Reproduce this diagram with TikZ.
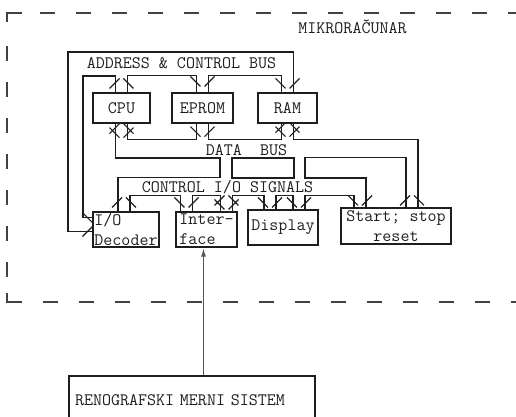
\documentclass[tikz,border=0pt]{standalone}
\definecolor{ink}{RGB}{30,30,30}
\definecolor{rimc}{RGB}{65,65,65}
\definecolor{feedc}{RGB}{85,85,85}
\usepackage{tikz}
\usetikzlibrary{arrows.meta,calc}

\begin{document}
\begin{tikzpicture}[x=1pt, y=-1pt,
        every node/.style={font=\ttfamily\fontsize{17.5}{20}\selectfont, text=ink, inner sep=0pt},
        box/.style={draw=ink, line width=1.2pt, inner sep=1pt},
        bus/.style={draw=ink, line width=1.2pt},
        rim/.style={rimc, line width=1.8pt},
        rimdash/.style={rimc, line width=1.8pt, dash pattern=on 15pt off 21pt},
        feed/.style={feedc, line width=1.7pt, -{Latex[length=9pt,width=5pt]}},
        busdn/.pic={\draw[bus] (-12,-5) -- (-2,5) (12,-5) -- (2,5);},
        busup/.pic={\draw[bus] (-12,5) -- (-2,-5) (12,5) -- (2,-5);},
        busbi/.pic={\draw[bus] (-12,-3) -- (-2,7) (12,-3) -- (2,7) (-12,3) -- (-2,-7) (12,3) -- (2,-7);},
        busrt/.pic={\draw[bus] (-5,-12) -- (5,-2) (-5,12) -- (5,2);}]
        \useasboundingbox (0,0) rectangle (516,416);
        \clip (0,0) rectangle (516,416);
        % microcomputer outline
        \draw[rim] (22,13) -- (7,13) -- (7,22);
        \draw[rim] (7,293) -- (7,302) -- (22,302);
        \draw[rimdash] (40,13) -- (530,13);
        \draw[rimdash] (43,302) -- (530,302);
        \draw[rimdash] (7,46) -- (7,282);
        \node (mikro) at (352.5,27) {MIKRORAČUNAR};
        % boxes
        \node[box, minimum width=57, minimum height=30] (cpu) at (121.5,108) {CPU};
        \node[box, minimum width=61, minimum height=30] (eprom) at (202.5,108) {EPROM};
        \node[box, minimum width=59, minimum height=30] (ram) at (287.5,108) {RAM};
        \node[box, minimum width=66, minimum height=35, align=left] (iodec) at (126,229.5) {I/O\\Decoder};
        \node[box, minimum width=61, minimum height=35, align=left] (iface) at (206.5,229.5) {Inter-\\face};
        \node[box, minimum width=70, minimum height=35] (disp) at (283,227.5) {Display};
        \node[box, minimum width=110, minimum height=36, align=center] (start) at (396,226) {Start; stop\\reset};
        \node[box, minimum height=48, text width=234, inner xsep=6pt, align=left] (reno) at (192,400) {RENOGRAFSKI MERNI SISTEM};
        % address & control bus
        \node (abus) at (181.5,63) {ADDRESS \& CONTROL BUS};
        \draw[bus] ($(iodec.west)+(0,2)$) -| (68,52) -| ($(ram.north)+(6,0)$);
        \draw[bus] ($(iodec.west)+(0,-12)$) -| (83,76) -| ($(cpu.north)+(-6,0)$);
        \draw[bus] ($(cpu.north)+(6,0)$) -- ++(0,-17) -| ($(eprom.north)+(-6,0)$);
        \draw[bus] ($(eprom.north)+(6,0)$) -- ++(0,-17) -| ($(ram.north)+(-6,0)$);
        \pic at ($(cpu.north)+(0,-9)$) {busup};
        \pic at ($(eprom.north)+(0,-11)$) {busdn};
        \pic at ($(ram.north)+(0,-9)$) {busdn};
        \pic at ($(iodec.west)+(-5,-5)$) {busrt};
        % data bus
        \node (dbus) at (246.5,150) {DATA\ \ BUS};
        \draw[bus] ($(cpu.south)+(6,0)$) -- ++(0,16) -| ($(eprom.south)+(-6,0)$);
        \draw[bus] ($(eprom.south)+(6,0)$) -- ++(0,16) -| ($(ram.south)+(-6,0)$);
        \draw[bus] ($(ram.south)+(6,0)$) -- ++(0,16) -| ($(start.north)+(22,0)$);
        \draw[bus] ($(cpu.south)+(-6,0)$) |- (220,158) |- ($(iodec.north)+(-8,-34)$) -- ($(iodec.north)+(-8,0)$);
        \draw[bus] (232,158) rectangle (294,178);
        \draw[bus] ($(start.north)+(-30,0)$) |- (305,178) |- ($(start.north)+(10,-50)$) -- ($(start.north)+(10,0)$);
        \pic at ($(cpu.south)+(0,7)$) {busbi};
        \pic at ($(eprom.south)+(0,8)$) {busdn};
        \pic at ($(ram.south)+(0,6)$) {busbi};
        \pic at ($(start.north)+(16,-7)$) {busup};
        % control i/o signals
        \node (cbus) at (227.5,187) {CONTROL I/O SIGNALS};
        \draw[bus] ($(iodec.north)+(4,0)$) -- ++(0,-16) -| ($(iface.north)+(-26,0)$);
        \draw[bus] ($(iface.north)+(-14,0)$) -- ++(0,-16) -| ($(iface.north)+(14,0)$);
        \draw[bus] ($(iface.north)+(26,0)$) -- ++(0,-16) -| ($(disp.north)+(-19,0)$);
        \draw[bus] ($(disp.north)+(-7,0)$) -- ++(0,-14) -| ($(disp.north)+(10,0)$);
        \draw[bus] ($(disp.north)+(22,0)$) -- ++(0,-14) -| ($(start.north)+(-42,0)$);
        \pic at ($(iodec.north)+(-2,-9)$) {busup};
        \pic at ($(iface.north)+(-20,-9)$) {busdn};
        \pic at ($(iface.north)+(20,-9)$) {busbi};
        \pic at ($(disp.north)+(-13,-7)$) {busdn};
        \pic at ($(disp.north)+(16,-7)$) {busdn};
        \pic at ($(start.north)+(-36,-7)$) {busdn};
        % measuring system into the interface
        \coordinate (feedtop) at ($(iface.south)+(-3,0)$);
        \draw[feed] (reno.north -| feedtop) -- (feedtop);
      \end{tikzpicture}
\end{document}
